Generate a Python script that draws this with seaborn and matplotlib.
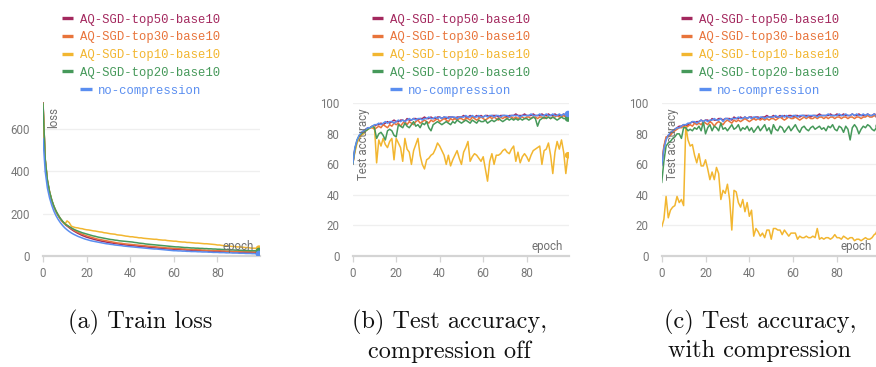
import matplotlib
matplotlib.use("Agg")
import matplotlib.pyplot as plt
import pandas as pd
import seaborn as sns

# ---------------- data ----------------
series_names = ["AQ-SGD-top50-base10", "AQ-SGD-top30-base10", "AQ-SGD-top10-base10",
                "AQ-SGD-top20-base10", "no-compression"]
series_colors = ["#a3285e", "#e8743b", "#f2b630", "#46995a", "#5a8ef0"]
epochs = list(range(100))
x_ticks = [0, 20, 40, 60, 80]
loss_ticks = [0, 200, 400, 600]
acc_ticks = [0, 20, 40, 60, 80, 100]
captions = ["(a) Train loss", "(b) Test accuracy,\ncompression off", "(c) Test accuracy,\nwith compression"]
y_labels = ["loss", "Test accuracy", "Test accuracy"]
x_label = "epoch"

# (a) train loss
loss_top50 = [730, 455, 355, 300, 262, 232, 209, 190, 174, 161,
              150, 142, 134, 126, 119, 113, 107, 102, 97, 93,
              89, 86, 83, 80, 77, 75, 72, 70, 68, 66,
              64, 62, 61, 59, 58, 56, 55, 54, 52, 51,
              50, 49, 48, 47, 46, 45, 44, 43, 42, 41,
              40, 39, 38, 37, 37, 36, 35, 34, 33, 33,
              32, 31, 31, 30, 30, 29, 28, 28, 27, 27,
              26, 26, 25, 25, 24, 24, 23, 23, 23, 22,
              22, 21, 21, 21, 20, 20, 20, 19, 19, 19,
              18, 18, 18, 17, 17, 17, 17, 16, 16, 16]
loss_top30 = [722, 458, 358, 303, 264, 234, 211, 192, 176, 163,
              152, 144, 137, 130, 123, 117, 112, 107, 103, 99,
              95, 92, 89, 86, 83, 80, 78, 76, 74, 72,
              70, 68, 66, 64, 62, 61, 60, 58, 57, 56,
              55, 54, 53, 52, 51, 50, 49, 48, 47, 46,
              45, 44, 43, 42, 41, 40, 39, 38, 38, 37,
              36, 35, 35, 34, 33, 33, 32, 31, 31, 30,
              30, 29, 29, 28, 28, 27, 27, 26, 26, 25,
              25, 25, 24, 24, 23, 23, 23, 22, 22, 22,
              21, 21, 21, 20, 20, 20, 19, 19, 19, 19]
loss_top10 = [722, 458, 358, 303, 264, 234, 211, 192, 176, 163,
              150, 166, 158, 141, 137, 134, 133, 130, 129, 126,
              124, 123, 121, 119, 118, 116, 114, 113, 110, 109,
              107, 105, 104, 103, 100, 99, 98, 96, 94, 93,
              91, 91, 89, 88, 86, 86, 84, 83, 82, 81,
              80, 79, 79, 77, 76, 75, 75, 73, 72, 71,
              70, 70, 68, 67, 66, 66, 64, 64, 63, 62,
              61, 61, 60, 59, 58, 58, 57, 56, 55, 54,
              52, 52, 50, 49, 48, 48, 46, 45, 45, 43,
              43, 42, 41, 40, 40, 38, 37, 37, 36, 35]
loss_top20 = [722, 460, 360, 305, 265, 235, 212, 193, 177, 164,
              153, 146, 139, 133, 127, 122, 118, 114, 110, 107,
              104, 101, 98, 95, 93, 90, 88, 86, 84, 82,
              80, 78, 77, 75, 74, 72, 71, 70, 69, 68,
              67, 66, 64, 63, 61, 60, 59, 57, 56, 55,
              54, 53, 52, 51, 50, 49, 48, 47, 46, 45,
              44, 43, 43, 42, 41, 40, 40, 39, 38, 38,
              37, 37, 36, 36, 35, 35, 34, 34, 33, 33,
              32, 32, 31, 31, 30, 30, 29, 29, 28, 28,
              27, 27, 26, 26, 26, 25, 25, 25, 24, 24]
loss_nocomp = [556, 400, 322, 275, 240, 212, 190, 172, 157, 144,
               133, 124, 116, 109, 103, 98, 93, 89, 85, 81,
               78, 75, 72, 70, 68, 66, 64, 62, 60, 58,
               57, 55, 54, 52, 51, 50, 49, 47, 46, 45,
               44, 43, 42, 41, 40, 39, 38, 37, 36, 35,
               34, 33, 33, 32, 31, 30, 29, 28, 27, 26,
               25, 25, 24, 24, 23, 23, 22, 22, 21, 21,
               21, 20, 20, 19, 19, 19, 18, 18, 17, 17,
               17, 16, 16, 16, 15, 15, 15, 14, 14, 14,
               13, 13, 13, 12, 12, 12, 11, 11, 10, 10]

# (b) test accuracy, compression off
accb_top50 = [60, 70, 75, 78, 80, 82, 83, 84, 84, 85,
              85, 86, 86, 87, 86, 87, 88, 87, 88, 89,
              88, 88, 89, 89, 88, 90, 89, 89, 90, 90,
              89, 90, 90, 91, 90, 90, 91, 90, 90, 91,
              91, 90, 91, 90, 91, 91, 91, 90, 91, 91,
              91, 92, 91, 91, 92, 91, 91, 92, 91, 92,
              91, 92, 92, 91, 92, 92, 92, 91, 92, 92,
              92, 91, 92, 92, 92, 93, 92, 92, 92, 93,
              92, 92, 92, 93, 92, 92, 92, 93, 92, 92,
              93, 92, 92, 93, 92, 92, 92, 93, 92, 92]
accb_top30 = [60, 69, 75, 78, 80, 81, 82, 83, 84, 84,
              83, 84, 85, 84, 86, 85, 84, 86, 85, 87,
              86, 87, 85, 87, 88, 86, 88, 87, 86, 88,
              89, 87, 88, 89, 88, 87, 89, 88, 89, 90,
              88, 89, 90, 89, 88, 90, 89, 90, 89, 90,
              90, 89, 90, 90, 89, 91, 90, 89, 90, 91,
              90, 89, 90, 91, 90, 91, 90, 89, 91, 90,
              91, 90, 91, 91, 90, 91, 90, 91, 91, 90,
              91, 91, 90, 91, 91, 90, 91, 91, 90, 91,
              91, 90, 91, 91, 92, 91, 91, 92, 91, 92]
accb_top10 = [60, 68, 74, 77, 79, 80, 82, 83, 84, 84,
              85, 61, 76, 72, 77, 73, 71, 75, 77, 63,
              77, 74, 71, 62, 77, 70, 68, 60, 69, 73,
              77, 66, 60, 57, 63, 64, 66, 67, 70, 74,
              72, 69, 66, 60, 66, 59, 63, 66, 69, 64,
              60, 68, 71, 75, 62, 65, 67, 66, 64, 62,
              65, 57, 49, 62, 67, 60, 66, 66, 67, 69,
              70, 68, 67, 70, 72, 62, 68, 61, 65, 67,
              65, 62, 66, 69, 70, 71, 72, 60, 69, 70,
              74, 66, 54, 68, 75, 70, 76, 68, 54, 66]
accb_top20 = [60, 70, 76, 79, 80, 81, 82, 83, 84, 85,
              84, 77, 80, 81, 79, 76, 82, 83, 82, 79,
              78, 86, 85, 84, 87, 85, 84, 86, 88, 85,
              86, 84, 87, 86, 88, 84, 82, 86, 87, 88,
              87, 86, 87, 88, 87, 86, 88, 87, 89, 88,
              87, 88, 89, 88, 87, 89, 88, 87, 89, 88,
              88, 89, 87, 88, 89, 88, 89, 90, 89, 88,
              89, 90, 89, 90, 89, 90, 89, 90, 89, 90,
              90, 89, 90, 91, 90, 85, 89, 90, 91, 90,
              91, 90, 91, 90, 89, 90, 91, 90, 90, 90]
accb_nocomp = [60, 71, 76, 79, 81, 82, 83, 84, 84, 85,
               86, 86, 87, 86, 87, 88, 87, 88, 88, 87,
               88, 89, 88, 89, 88, 89, 90, 89, 90, 89,
               90, 90, 89, 90, 90, 91, 90, 90, 91, 90,
               91, 90, 91, 91, 90, 91, 91, 91, 90, 91,
               91, 91, 92, 91, 91, 92, 91, 91, 92, 91,
               91, 92, 91, 92, 92, 91, 92, 92, 91, 92,
               92, 92, 91, 92, 92, 92, 92, 91, 92, 92,
               92, 92, 93, 92, 92, 92, 93, 92, 92, 93,
               92, 92, 93, 92, 92, 93, 92, 93, 92, 93]

# (c) test accuracy, with compression
accc_top50 = [60, 71, 77, 79, 80, 82, 83, 84, 85, 85,
              86, 85, 86, 87, 88, 87, 88, 88, 89, 88,
              89, 89, 88, 90, 89, 89, 90, 90, 89, 90,
              90, 90, 89, 91, 90, 90, 91, 90, 91, 90,
              91, 91, 90, 91, 91, 90, 91, 91, 92, 91,
              91, 92, 91, 91, 92, 91, 92, 91, 92, 92,
              91, 92, 92, 91, 92, 92, 92, 92, 91, 92,
              92, 92, 93, 92, 92, 92, 92, 93, 92, 92,
              93, 92, 92, 93, 92, 92, 92, 93, 92, 92,
              93, 92, 92, 92, 93, 92, 92, 93, 92, 92]
accc_top30 = [59, 72, 78, 78, 79, 81, 82, 83, 84, 84,
              85, 84, 85, 86, 85, 87, 86, 87, 86, 88,
              87, 86, 88, 87, 85, 87, 88, 87, 86, 88,
              89, 88, 87, 89, 88, 89, 88, 89, 90, 89,
              88, 89, 90, 89, 90, 89, 90, 89, 90, 89,
              90, 90, 89, 90, 91, 90, 89, 90, 91, 90,
              90, 91, 90, 89, 90, 91, 90, 91, 90, 90,
              91, 90, 91, 91, 90, 91, 90, 91, 91, 90,
              91, 91, 90, 91, 91, 90, 91, 91, 90, 91,
              91, 90, 91, 91, 92, 91, 91, 92, 91, 92]
accc_top10 = [19, 24, 39, 25, 30, 32, 33, 39, 35, 37,
              33, 85, 76, 72, 73, 66, 61, 67, 59, 59,
              63, 57, 50, 55, 50, 58, 54, 37, 43, 41,
              47, 37, 17, 43, 42, 35, 32, 37, 29, 35,
              26, 30, 13, 18, 16, 13, 15, 12, 17, 17,
              11, 18, 18, 17, 17, 14, 17, 15, 13, 15,
              15, 15, 11, 13, 12, 12, 13, 12, 12, 13,
              12, 18, 11, 12, 11, 12, 12, 11, 12, 14,
              12, 12, 11, 13, 12, 11, 12, 12, 10, 11,
              11, 10, 11, 12, 11, 11, 12, 14, 15, 15]
accc_top20 = [48, 62, 72, 74, 75, 77, 78, 80, 80, 77,
              84, 84, 82, 83, 82, 84, 83, 85, 82, 88,
              80, 84, 86, 82, 85, 84, 82, 87, 83, 84,
              82, 84, 86, 83, 84, 86, 82, 84, 83, 85,
              82, 84, 81, 83, 85, 82, 84, 86, 82, 84,
              80, 86, 83, 82, 85, 84, 81, 83, 85, 82,
              84, 86, 83, 81, 84, 85, 83, 82, 84, 85,
              83, 84, 85, 83, 84, 82, 85, 84, 86, 83,
              82, 85, 84, 81, 85, 83, 76, 84, 86, 84,
              80, 83, 85, 84, 86, 85, 83, 82, 84, 85]
accc_nocomp = [59, 70, 76, 79, 81, 82, 83, 84, 84, 85,
               86, 86, 87, 87, 88, 88, 87, 88, 89, 88,
               89, 88, 89, 89, 90, 89, 89, 90, 88, 90,
               90, 89, 90, 90, 90, 91, 90, 90, 91, 90,
               91, 90, 91, 91, 90, 91, 91, 90, 91, 91,
               91, 91, 92, 91, 91, 92, 91, 92, 91, 91,
               92, 92, 91, 92, 92, 92, 91, 92, 92, 92,
               92, 91, 92, 92, 92, 92, 93, 92, 92, 92,
               92, 93, 92, 92, 93, 92, 92, 93, 92, 93,
               92, 92, 93, 92, 93, 92, 92, 93, 92, 92]

panel_series = [
    [loss_top50, loss_top30, loss_top10, loss_top20, loss_nocomp],
    [accb_top50, accb_top30, accb_top10, accb_top20, accb_nocomp],
    [accc_top50, accc_top30, accc_top10, accc_top20, accc_nocomp],
]

# ---------------- style ----------------
sns.set_theme(style="white")
plt.rcParams["font.family"] = ["Roboto", "DejaVu Sans"]

W, H = 876, 367
fig = plt.figure(figsize=(W / 100, H / 100), dpi=100)

# axes rectangles in pixels: (left, top, width, height) ; bottom at y=256
ax_px = [(43, 101.6, 217, 154.4), (352.7, 103.3, 216.4, 152.7), (661.7, 103.3, 218, 152.7)]
ylims = [(0, 730), (0, 100)]
legend_cx = [141, 451, 760]
caption_cx = [140, 449, 760]
legend_rows = [19.5, 37.3, 55.0, 72.6, 90.6]
palette = dict(zip(series_names, series_colors))

for i in range(3):
    l, t, w, h = ax_px[i]
    ax = fig.add_axes([l / W, 1 - (t + h) / H, w / W, h / H])
    rows = []
    for name, vals in zip(series_names, panel_series[i]):
        for e, v in zip(epochs, vals):
            rows.append({"epoch": e, "value": v, "series": name})
    df = pd.DataFrame(rows)
    sns.lineplot(data=df, x="epoch", y="value", hue="series", hue_order=series_names,
                 palette=palette, linewidth=1.1, legend=False, ax=ax, sort=False)
    last = df[df["epoch"] == epochs[-1]]
    sns.scatterplot(data=last, x="epoch", y="value", hue="series", hue_order=series_names,
                    palette=palette, s=22, linewidth=0, legend=False, ax=ax, zorder=5)

    ax.set_xlim(0, 99.5)
    if i == 0:
        ax.set_ylim(*ylims[0])
        ax.set_yticks(loss_ticks)
    else:
        ax.set_ylim(*ylims[1])
        ax.set_yticks(acc_ticks)
    ax.set_xticks(x_ticks)
    ax.set_xlabel("")
    ax.set_ylabel("")
    for s in ["left", "top", "right"]:
        ax.spines[s].set_visible(False)
    ax.spines["bottom"].set_color("#d4d4d4")
    ax.spines["bottom"].set_linewidth(1.6)
    ax.yaxis.grid(True, color="#efefef", linewidth=0.9)
    ax.xaxis.grid(False)
    ax.set_axisbelow(True)
    ax.tick_params(axis="y", length=0, pad=9.5, labelsize=8.3, labelcolor="#777777")
    ax.tick_params(axis="x", bottom=True, direction="out", length=4.5, width=0.9,
                   color="#d4d4d4", pad=3.5, labelsize=8.3, labelcolor="#777777")
    ax.patch.set_alpha(0)

    # rotated y label inside the axes
    ax.text(11 / w, 1 - 5 / h, y_labels[i], transform=ax.transAxes, rotation=90,
            ha="center", va="top", fontsize=8.3, color="#707070")
    # x label inside, bottom right
    ax.text(210.3 / w, 9.5 / h, x_label, transform=ax.transAxes,
            ha="right", va="center", fontsize=8.3, color="#707070")

    # legend: one centered row per series
    cx = legend_cx[i]
    for name, col, ry in zip(series_names, series_colors, legend_rows):
        handle = plt.Line2D([], [], color=col, linewidth=2.4, solid_capstyle="butt")
        fig.legend([handle], [name], loc="center",
                   bbox_to_anchor=(cx / W, 1 - ry / H), frameon=False,
                   borderpad=0, borderaxespad=0, handlelength=0.9,
                   handletextpad=0.55, labelcolor=col,
                   prop={"family": "Liberation Mono", "size": 8.85})

    # caption
    fig.text(caption_cx[i] / W, 1 - 310 / H, captions[i], ha="center", va="top",
             fontsize=17.5, family="cmr10", color="#111111", linespacing=1.3)

fig.savefig("out.png", dpi=100)
